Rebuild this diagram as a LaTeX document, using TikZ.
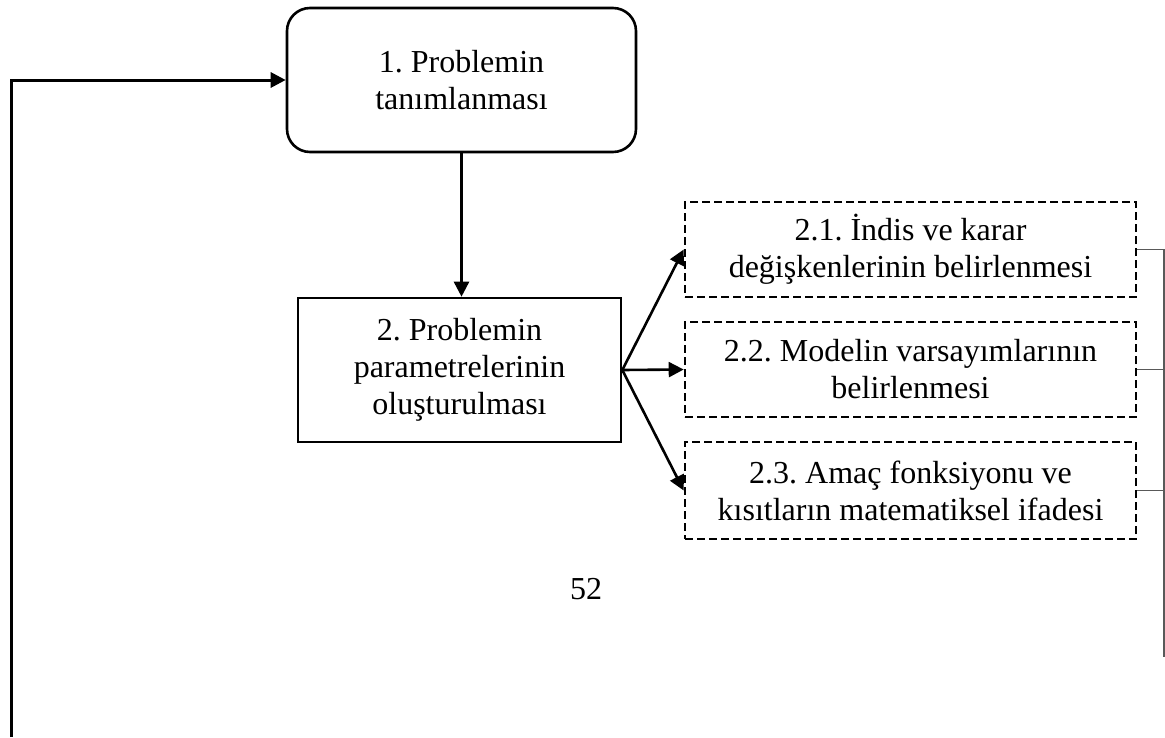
\documentclass[tikz,border=0pt]{standalone}
\usepackage{fontspec}
\setmainfont{Liberation Serif}
\usetikzlibrary{arrows.meta}
\frenchspacing
\begin{document}
\begin{tikzpicture}[x=1pt,y=-1pt,
  every node/.style={font=\fontsize{32}{37}\selectfont, align=center, inner sep=0pt},
  mainbox/.style={draw, line width=2.6pt, minimum width=#1, minimum height=144pt},
  subbox/.style={draw, line width=2.6pt, dash pattern=on 8pt off 4pt, minimum width=451pt},
  flow/.style={line width=2.6pt, -{Triangle[length=15pt,width=15pt]}},
  bracket/.style={draw=black!65, line width=1.2pt}
]
\useasboundingbox (0,0) rectangle (1165,737);

% main steps
\node[mainbox=349pt, rounded corners=23pt] (p1) at (461.5,80) {1. Problemin\\tanımlanması};
\node[mainbox=323pt] (p2) at (459.5,370) {2. Problemin\\parametrelerinin\\oluşturulması};

% sub-steps of step 2
\node[subbox, minimum height=95pt] (s1) at (910.5,249.5) {2.1. İndis ve karar\\değişkenlerinin belirlenmesi};
\node[subbox, minimum height=95pt] (s2) at (910.5,369.5) {2.2. Modelin varsayımlarının\\belirlenmesi};
\node[subbox, minimum height=97pt] (s3) at (910.5,490.5) {2.3. Amaç fonksiyonu ve\\kısıtların matematiksel ifadesi};

% page number
\node (pg) at (586,589) {52};

% connectors
\draw[flow] (p1.south) -- (p1.south |- p2.north);
\draw[flow] (p2.east) -- (s1.west);
\draw[flow] (p2.east) -- (s2.west);
\draw[flow] (p2.east) -- (s3.west);

% feedback line back to step 1
\coordinate (fb) at (11,737);
\draw[flow, line width=3pt] (fb) |- (p1.west);

% grouping bracket on the right
\coordinate (bt) at (1164,249.5);
\coordinate (bb) at (1164,657);
\draw[bracket] (s1.east) -- (bt) -- (bb);
\draw[bracket] (s2.east) -- (s2.east -| bt);
\draw[bracket] (s3.east) -- (s3.east -| bt);
\end{tikzpicture}
\end{document}
